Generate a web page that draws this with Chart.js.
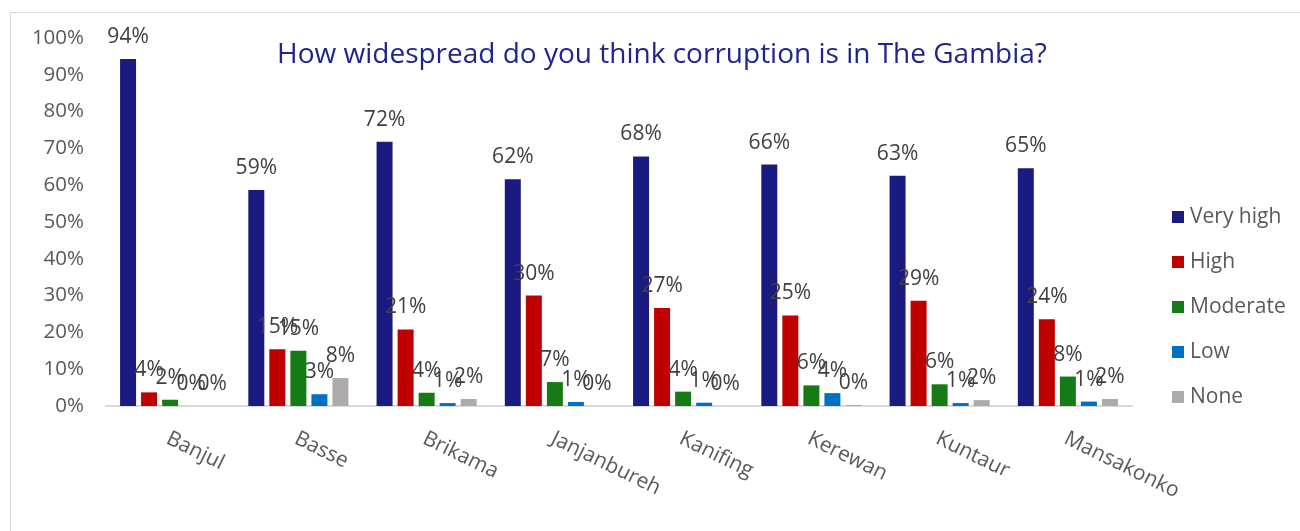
<!DOCTYPE html>
<html>
<head>
<meta charset="utf-8">
<script src="https://cdn.jsdelivr.net/npm/chart.js@4.4.0/dist/chart.umd.min.js"></script>
<style>
  html, body { margin: 0; padding: 0; background: #ffffff; }
  canvas { display: block; }
</style>
</head>
<body>
<canvas id="chart" width="1300" height="531"></canvas>
<script>
/* How widespread is corruption — grouped bars by region */

var regions = ['Banjul', 'Basse', 'Brikama', 'Janjanbureh', 'Kanifing', 'Kerewan', 'Kuntaur', 'Mansakonko'];
var seriesNames = ['Very high', 'High', 'Moderate', 'Low', 'None'];
var seriesColors = ['#1a1a80', '#c00000', '#167b16', '#0070c0', '#aeaaaa'];

var veryHigh = [94.3, 58.7, 71.8, 61.6, 67.8, 65.6, 62.6, 64.6];
var high     = [3.7, 15.4, 20.8, 30.0, 26.6, 24.6, 28.6, 23.6];
var moderate = [1.7, 15.0, 3.6, 6.5, 3.9, 5.6, 5.9, 8.0];
var low      = [0, 3.2, 0.8, 1.1, 0.9, 3.5, 0.8, 1.2];
var none     = [0, 7.6, 1.9, 0, 0, 0.3, 1.6, 1.9];

var yTicks = [0, 10, 20, 30, 40, 50, 60, 70, 80, 90, 100];
var titleText = 'How widespread do you think corruption is in The Gambia?';

var FONT = '"Open Sans", "Noto Sans", sans-serif';

var decorPlugin = {
  id: 'decor',
  beforeDraw: function (chart) {
    var ctx = chart.ctx;
    ctx.save();
    ctx.strokeStyle = '#d9d9d9';
    ctx.lineWidth = 1;
    ctx.strokeRect(10.5, 12.5, 1400, 600);
    ctx.restore();
  },
  afterDatasetsDraw: function (chart) {
    var ctx = chart.ctx;
    ctx.save();
    ctx.font = '21px ' + FONT;
    ctx.fillStyle = '#404040';
    ctx.textAlign = 'center';
    ctx.textBaseline = 'alphabetic';
    chart.data.datasets.forEach(function (ds, i) {
      var meta = chart.getDatasetMeta(i);
      meta.data.forEach(function (bar, j) {
        ctx.fillText(Math.round(ds.data[j]) + '%', bar.x, bar.y - 16);
      });
    });
    ctx.restore();
  },
  afterDraw: function (chart) {
    var ctx = chart.ctx;
    var xs = chart.scales.x;
    ctx.save();
    // category labels, slanted downwards
    ctx.font = '21px ' + FONT;
    ctx.fillStyle = '#595959';
    ctx.textAlign = 'left';
    ctx.textBaseline = 'top';
    regions.forEach(function (r, i) {
      var x = xs.getPixelForValue(i);
      ctx.save();
      ctx.translate(x + 2, 428);
      ctx.rotate(26 * Math.PI / 180);
      ctx.fillText(r, 0, 0);
      ctx.restore();
    });
    // title
    ctx.font = '28px ' + FONT;
    ctx.fillStyle = '#23238c';
    ctx.textAlign = 'center';
    ctx.textBaseline = 'alphabetic';
    ctx.fillText(titleText, 662, 63);
    // legend
    ctx.font = '21px ' + FONT;
    ctx.textAlign = 'left';
    ctx.textBaseline = 'middle';
    chart.data.datasets.forEach(function (ds, i) {
      var cy = 217 + i * 45;
      ctx.fillStyle = ds.backgroundColor;
      ctx.fillRect(1172, cy - 6, 12, 12);
      ctx.fillStyle = '#595959';
      ctx.fillText(ds.label, 1190, cy);
    });
    ctx.restore();
  }
};

var seriesData = [veryHigh, high, moderate, low, none];

new Chart(document.getElementById('chart'), {
  type: 'bar',
  data: {
    labels: regions,
    datasets: seriesNames.map(function (name, i) {
      return {
        label: name,
        data: seriesData[i],
        backgroundColor: seriesColors[i],
        borderWidth: 0,
        categoryPercentage: 0.82,
        barPercentage: 0.76
      };
    })
  },
  options: {
    responsive: false,
    animation: false,
    layout: { padding: { left: 10, right: 168, top: 38, bottom: 125 } },
    plugins: {
      legend: { display: false },
      tooltip: { enabled: false }
    },
    scales: {
      x: {
        grid: { display: false, drawTicks: false },
        border: { display: true, color: '#d9d9d9', width: 2 },
        ticks: { display: false },
        afterFit: function (s) { s.height = 0; }
      },
      y: {
        min: 0,
        max: 100,
        afterBuildTicks: function (s) {
          s.ticks = yTicks.map(function (v) { return { value: v }; });
        },
        grid: { display: false, drawTicks: false },
        border: { display: false },
        ticks: {
          padding: 22,
          color: '#595959',
          font: { family: FONT, size: 20.5 },
          callback: function (v) { return v + '%'; }
        },
        afterFit: function (s) { s.width = 96; }
      }
    }
  },
  plugins: [decorPlugin]
});
</script>
</body>
</html>
